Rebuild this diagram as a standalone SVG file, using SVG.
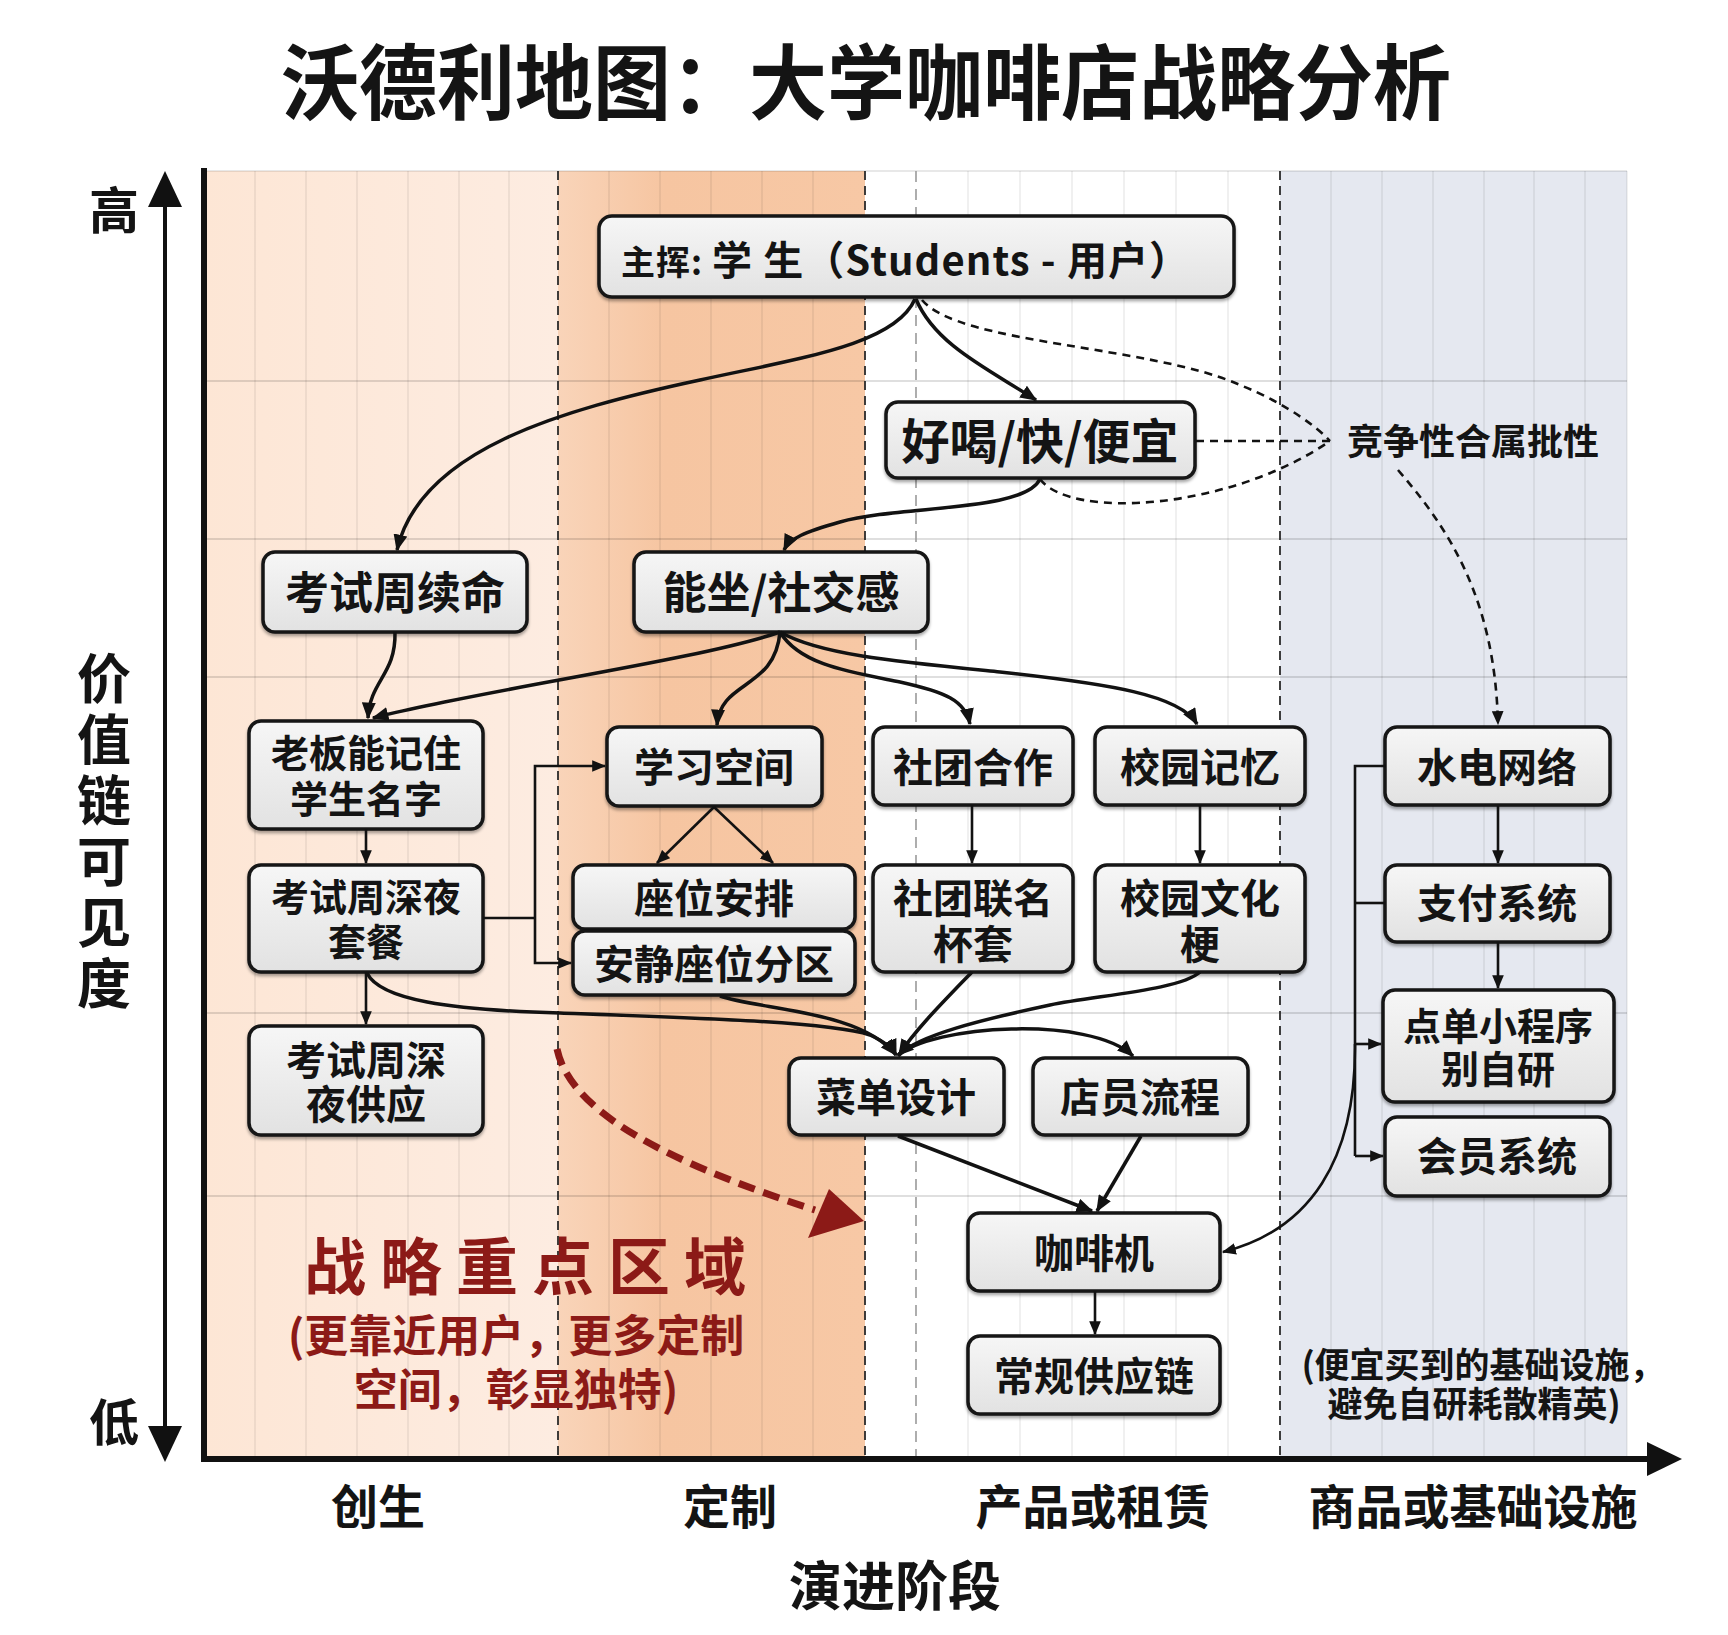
<svg xmlns="http://www.w3.org/2000/svg" width="1728" height="1635" viewBox="0 0 1728 1635">
<defs>
<style>
.t{font-family:'Noto Sans CJK SC','Noto Sans',sans-serif;font-weight:700;fill:#141414;text-anchor:middle}
.n rect{fill:url(#ng);stroke:#161616;stroke-width:3.5;filter:url(#sh)}
.c{fill:none;stroke:#121212;stroke-width:3.5;marker-end:url(#ah)}
.c2{fill:none;stroke:#121212;stroke-width:2.6}
.m2{marker-end:url(#ah2)}
.dsh{fill:none;stroke:#121212;stroke-width:2.6;stroke-dasharray:8 6}
.gv{stroke:#000;stroke-opacity:0.1;stroke-width:1.2}
.gh{stroke:#000;stroke-opacity:0.17;stroke-width:1.6}
.bd{stroke:#2a2a2a;stroke-width:1.8;stroke-dasharray:9 6}
.red{fill:#8c1a17}
</style>
<linearGradient id="ng" x1="0" y1="0" x2="0" y2="1">
<stop offset="0" stop-color="#f6f6f6"/><stop offset="1" stop-color="#e2e2e2"/>
</linearGradient>
<linearGradient id="gGen" x1="0" y1="0" x2="1" y2="0">
<stop offset="0" stop-color="#fde6d5"/><stop offset="1" stop-color="#fdece1"/>
</linearGradient>
<linearGradient id="gCus" x1="0" y1="0" x2="1" y2="0">
<stop offset="0" stop-color="#f9d4b9"/><stop offset="0.35" stop-color="#f6c5a1"/><stop offset="1" stop-color="#f7c8a5"/>
</linearGradient>
<filter id="sh" x="-10%" y="-10%" width="120%" height="135%">
<feDropShadow dx="0" dy="2.5" stdDeviation="1.5" flood-color="#000" flood-opacity="0.35"/>
</filter>
<marker id="ah" viewBox="0 0 12 10" refX="11" refY="5" markerWidth="17" markerHeight="14" markerUnits="userSpaceOnUse" orient="auto">
<path d="M0,0 L12,5 L0,10 z" fill="#121212"/>
</marker>
<marker id="ah2" viewBox="0 0 12 10" refX="11" refY="5" markerWidth="14" markerHeight="12" markerUnits="userSpaceOnUse" orient="auto">
<path d="M0,0 L12,5 L0,10 z" fill="#121212"/>
</marker>
</defs>
<rect width="1728" height="1635" fill="#ffffff"/>

<!-- title -->
<text class="t" x="866" y="113" font-size="82" textLength="1170" lengthAdjust="spacingAndGlyphs">沃德利地图：大学咖啡店战略分析</text>

<!-- backgrounds -->
<g id="background">
<rect x="204" y="171" width="354" height="1287" fill="url(#gGen)"/>
<rect x="558" y="171" width="307" height="1287" fill="url(#gCus)"/>
<rect x="865" y="171" width="415" height="1287" fill="#ffffff"/>
<rect x="1280" y="171" width="347" height="1287" fill="#e5e8f0"/>
<line x1="204" y1="171" x2="1627" y2="171" stroke="#000" stroke-opacity="0.12" stroke-width="1.5"/>
<g class="gv">
<line x1="255" y1="171" x2="255" y2="1458"/><line x1="306" y1="171" x2="306" y2="1458"/><line x1="357" y1="171" x2="357" y2="1458"/>
<line x1="408" y1="171" x2="408" y2="1458"/><line x1="459" y1="171" x2="459" y2="1458"/><line x1="509" y1="171" x2="509" y2="1458"/>
<line x1="609" y1="171" x2="609" y2="1458"/><line x1="660" y1="171" x2="660" y2="1458"/><line x1="711" y1="171" x2="711" y2="1458"/>
<line x1="762" y1="171" x2="762" y2="1458"/><line x1="813" y1="171" x2="813" y2="1458"/>
<line x1="968" y1="171" x2="968" y2="1458"/><line x1="1020" y1="171" x2="1020" y2="1458"/><line x1="1072" y1="171" x2="1072" y2="1458"/>
<line x1="1124" y1="171" x2="1124" y2="1458"/><line x1="1176" y1="171" x2="1176" y2="1458"/><line x1="1228" y1="171" x2="1228" y2="1458"/>
<line x1="1331" y1="171" x2="1331" y2="1458"/><line x1="1382" y1="171" x2="1382" y2="1458"/><line x1="1433" y1="171" x2="1433" y2="1458"/>
<line x1="1484" y1="171" x2="1484" y2="1458"/><line x1="1534" y1="171" x2="1534" y2="1458"/><line x1="1585" y1="171" x2="1585" y2="1458"/>
<line x1="1627" y1="171" x2="1627" y2="1458"/>
</g>
<g class="gh">
<line x1="204" y1="381" x2="1627" y2="381"/><line x1="204" y1="539" x2="1627" y2="539"/><line x1="204" y1="677" x2="1627" y2="677"/>
<line x1="204" y1="1013" x2="1627" y2="1013"/><line x1="204" y1="1196" x2="1627" y2="1196"/>
</g>
<line class="bd" x1="558" y1="171" x2="558" y2="1458"/>
<line class="bd" x1="865" y1="171" x2="865" y2="1458"/>
<line class="bd" x1="1280" y1="171" x2="1280" y2="1458"/>
<line x1="916" y1="171" x2="916" y2="1458" stroke="#9a9a9a" stroke-width="1.6" stroke-dasharray="11 7"/>
</g>

<!-- axes -->
<g id="axes">
<line x1="204" y1="168" x2="204" y2="1461" stroke="#111" stroke-width="6"/>
<line x1="201" y1="1459" x2="1650" y2="1459" stroke="#111" stroke-width="6"/>
<polygon points="1682,1459 1647,1442 1647,1476" fill="#111"/>
<line x1="165" y1="200" x2="165" y2="1430" stroke="#111" stroke-width="4"/>
<polygon points="165,171 148,207 182,207" fill="#111"/>
<polygon points="165,1462 148,1426 182,1426" fill="#111"/>
<text class="t" x="114" y="229" font-size="50">高</text>
<text class="t" x="114" y="1441" font-size="50">低</text>
<text class="t" x="104" y="651" font-size="54" writing-mode="vertical-rl" letter-spacing="7" style="text-anchor:start">价值链可见度</text>
<text class="t" x="378" y="1524" font-size="47">创生</text>
<text class="t" x="730" y="1524" font-size="47">定制</text>
<text class="t" x="1093" y="1524" font-size="47">产品或租赁</text>
<text class="t" x="1473" y="1524" font-size="47">商品或基础设施</text>
<text class="t" x="895" y="1606" font-size="53">演进阶段</text>
</g>

<!-- annotations -->
<g id="focus-area">
<path d="M557,1049 C570,1110 660,1160 815,1210" fill="none" stroke="#8c1a17" stroke-width="7" stroke-dasharray="17 9"/>
<polygon class="red" points="864,1221 829,1189 808,1238"/>
<text class="t red" x="304" y="1290" font-size="62" letter-spacing="14" style="text-anchor:start">战略重点区域</text>
<text class="t red" font-size="44"><tspan x="516" y="1352">(更靠近用户，更多定制</tspan><tspan x="516" y="1406">空间，彰显独特)</tspan></text>
</g>
<g id="commodity-note">
<text class="t" font-size="35"><tspan x="1483" y="1378">(便宜买到的基础设施，</tspan><tspan x="1474" y="1417">避免自研耗散精英)</tspan></text>
</g>
<g id="competition-label">
<text class="t" x="1473" y="455" font-size="36">竞争性合属批性</text>
</g>

<!-- nodes -->
<g id="node-user" class="n"><rect x="599" y="216" width="635" height="81" rx="13"/>
<text class="t" x="905" y="275" textLength="568"><tspan font-size="34">主挥: </tspan><tspan font-size="40">学 生（Students - 用户）</tspan></text></g>
<g id="node-good" class="n"><rect x="886" y="402" width="309" height="76" rx="12"/>
<text class="t" x="1040" y="459" font-size="48">好喝/快/便宜</text></g>
<g id="node-exam" class="n"><rect x="263" y="552" width="264" height="80" rx="12"/>
<text class="t" x="395" y="609" font-size="44">考试周续命</text></g>
<g id="node-seat" class="n"><rect x="634" y="552" width="294" height="80" rx="12"/>
<text class="t" x="781" y="609" font-size="44">能坐/社交感</text></g>
<g id="node-boss" class="n"><rect x="249" y="721" width="234" height="108" rx="12"/>
<text class="t" font-size="38"><tspan x="366" y="767">老板能记住</tspan><tspan x="366" y="813">学生名字</tspan></text></g>
<g id="node-study" class="n"><rect x="607" y="727" width="215" height="79" rx="12"/>
<text class="t" x="714" y="782" font-size="40">学习空间</text></g>
<g id="node-club" class="n"><rect x="873" y="727" width="200" height="78" rx="12"/>
<text class="t" x="973" y="782" font-size="40">社团合作</text></g>
<g id="node-memory" class="n"><rect x="1095" y="727" width="210" height="78" rx="12"/>
<text class="t" x="1200" y="782" font-size="40">校园记忆</text></g>
<g id="node-power" class="n"><rect x="1385" y="727" width="225" height="78" rx="12"/>
<text class="t" x="1497" y="782" font-size="40">水电网络</text></g>
<g id="node-night" class="n"><rect x="249" y="865" width="234" height="107" rx="12"/>
<text class="t" font-size="38"><tspan x="366" y="911">考试周深夜</tspan><tspan x="366" y="956">套餐</tspan></text></g>
<g id="node-seating" class="n"><rect x="573" y="865" width="282" height="64" rx="12"/>
<text class="t" x="714" y="913" font-size="40">座位安排</text></g>
<g id="node-quiet" class="n"><rect x="573" y="931" width="282" height="64" rx="12"/>
<text class="t" x="714" y="979" font-size="40">安静座位分区</text></g>
<g id="node-clubcup" class="n"><rect x="873" y="865" width="200" height="107" rx="12"/>
<text class="t" font-size="40"><tspan x="973" y="913">社团联名</tspan><tspan x="973" y="959">杯套</tspan></text></g>
<g id="node-culture" class="n"><rect x="1095" y="865" width="210" height="107" rx="12"/>
<text class="t" font-size="40"><tspan x="1200" y="913">校园文化</tspan><tspan x="1200" y="959">梗</tspan></text></g>
<g id="node-pay" class="n"><rect x="1385" y="865" width="225" height="77" rx="12"/>
<text class="t" x="1497" y="918" font-size="40">支付系统</text></g>
<g id="node-app" class="n"><rect x="1383" y="990" width="231" height="112" rx="12"/>
<text class="t" font-size="38"><tspan x="1498" y="1040">点单小程序</tspan><tspan x="1498" y="1083">别自研</tspan></text></g>
<g id="node-latenight" class="n"><rect x="249" y="1026" width="234" height="109" rx="12"/>
<text class="t" font-size="40"><tspan x="366" y="1075">考试周深</tspan><tspan x="366" y="1119">夜供应</tspan></text></g>
<g id="node-menu" class="n"><rect x="789" y="1058" width="215" height="77" rx="12"/>
<text class="t" x="896" y="1112" font-size="40">菜单设计</text></g>
<g id="node-staff" class="n"><rect x="1033" y="1058" width="215" height="77" rx="12"/>
<text class="t" x="1140" y="1112" font-size="40">店员流程</text></g>
<g id="node-member" class="n"><rect x="1385" y="1117" width="225" height="79" rx="12"/>
<text class="t" x="1497" y="1171" font-size="40">会员系统</text></g>
<g id="node-machine" class="n"><rect x="968" y="1213" width="252" height="78" rx="12"/>
<text class="t" x="1094" y="1268" font-size="40">咖啡机</text></g>
<g id="node-supply" class="n"><rect x="968" y="1336" width="252" height="78" rx="12"/>
<text class="t" x="1094" y="1391" font-size="40">常规供应链</text></g>

<!-- connectors -->
<g id="connectors">
<path class="c" d="M915,299 C895,345 800,358 700,380 C560,410 420,450 397,550"/>
<path class="c" d="M916,299 C935,345 990,370 1036,400"/>
<path class="c" d="M1040,479 C1025,512 900,505 840,522 C805,532 790,538 784,550"/>
<path class="dsh" d="M922,300 C960,345 1150,345 1240,385 C1290,405 1320,430 1330,441"/>
<path class="dsh" d="M1040,479 C1070,520 1230,510 1330,441"/>
<path class="dsh" d="M1196,441 L1330,441"/>
<path class="dsh m2" d="M1398,470 C1450,530 1495,600 1498,724"/>
<path class="c" d="M395,632 C396,675 370,680 368,718"/>
<path class="c" d="M780,632 C700,660 480,690 373,718"/>
<path class="c" d="M780,632 C775,690 720,680 717,725"/>
<path class="c" d="M780,632 C800,665 850,672 900,682 C945,692 965,700 970,724"/>
<path class="c" d="M780,632 C820,655 900,662 1000,672 C1110,684 1180,695 1197,724"/>
<path class="c2 m2" d="M366,829 L366,863"/>
<path class="c2 m2" d="M366,972 L366,1024"/>
<path class="c2" d="M483,918 H535"/>
<path class="c2 m2" d="M535,918 V766 H605"/>
<path class="c2 m2" d="M535,918 V963 H571"/>
<path class="c2 m2" d="M714,807 L657,863"/>
<path class="c2 m2" d="M714,807 L773,863"/>
<path class="c" d="M367,973 C380,1000 450,1010 560,1013 C700,1018 830,1022 870,1035 C885,1042 893,1048 896,1055"/>
<path class="c" d="M720,996 C760,1010 860,1010 896,1055"/>
<path class="c" d="M972,972 C945,1000 915,1030 899,1055"/>
<path class="c" d="M1200,972 C1180,990 1100,995 1050,1005 C980,1020 920,1035 898,1055"/>
<path class="c" d="M898,1056 C930,1025 1090,1015 1133,1056"/>
<path class="c" d="M898,1136 L1092,1211"/>
<path class="c" d="M1141,1136 L1097,1211"/>
<path class="c2 m2" d="M1095,1291 L1095,1334"/>
<path class="c2 m2" d="M972,805 L972,863"/>
<path class="c2 m2" d="M1200,805 L1200,863"/>
<path class="c2 m2" d="M1498,806 L1498,863"/>
<path class="c2 m2" d="M1498,942 L1498,988"/>
<path class="c2" d="M1386,766 H1355 V1156"/>
<path class="c2" d="M1355,903 H1385"/>
<path class="c2 m2" d="M1355,1044 H1381"/>
<path class="c2 m2" d="M1355,1156 H1383"/>
<path class="c2 m2" d="M1355,1044 C1356,1160 1310,1230 1223,1252"/>
</g>
</svg>
